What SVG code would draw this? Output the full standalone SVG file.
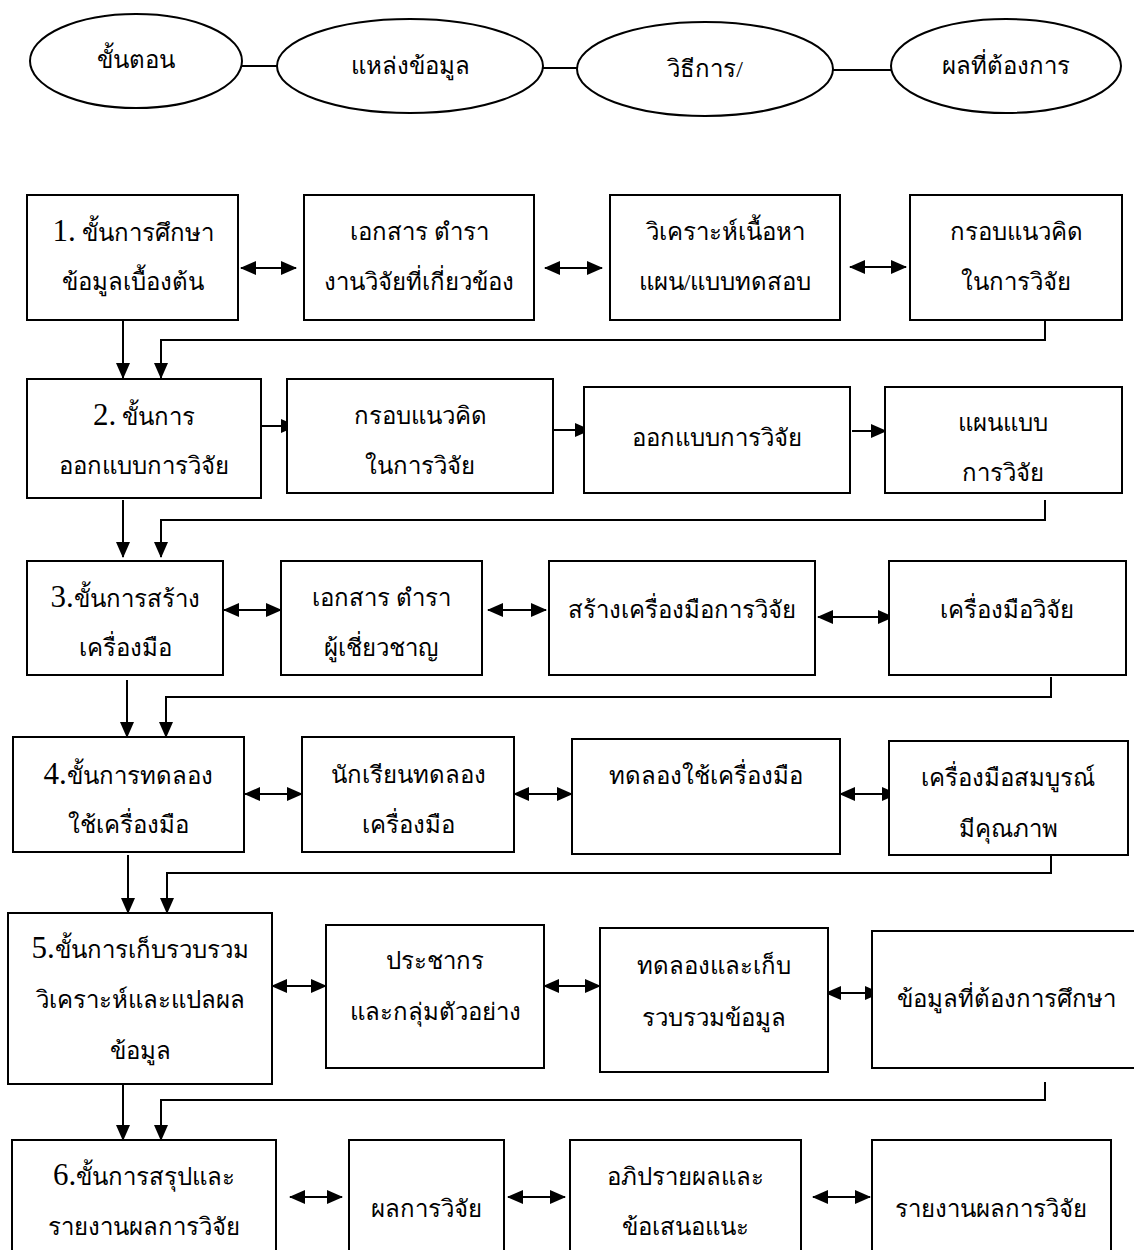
<svg xmlns="http://www.w3.org/2000/svg" width="1134" height="1250" viewBox="0 0 1134 1250">
<style>
.n{fill:#fff;stroke:#000;stroke-width:2}
.t{font-family:"Liberation Serif","DejaVu Serif",serif;font-size:24px;fill:#000;text-anchor:middle}
.d{font-size:31px}
.c{fill:none;stroke:#000;stroke-width:2}
</style>
<defs>
<marker id="ah" markerUnits="userSpaceOnUse" markerWidth="16" markerHeight="14" refX="15" refY="7" orient="auto-start-reverse" viewBox="0 0 16 14">
<path d="M0,0 L16,7 L0,14 z" fill="#000"/>
</marker>
</defs>
<rect width="1134" height="1250" fill="#fff"/>
<g id="connectors">
<line class="c" x1="242" y1="66" x2="277" y2="66"/>
<line class="c" x1="543" y1="68" x2="577" y2="68"/>
<line class="c" x1="833" y1="70" x2="891" y2="70"/>
<line class="c" x1="241" y1="268" x2="296" y2="268" marker-start="url(#ah)" marker-end="url(#ah)"/>
<line class="c" x1="545" y1="268" x2="602" y2="268" marker-start="url(#ah)" marker-end="url(#ah)"/>
<line class="c" x1="850" y1="267" x2="906" y2="267" marker-start="url(#ah)" marker-end="url(#ah)"/>
<line class="c" x1="123" y1="320" x2="123" y2="378" marker-end="url(#ah)"/>
<polyline class="c" points="1045,320 1045,340 161,340 161,378" marker-end="url(#ah)"/>
<line class="c" x1="262" y1="426" x2="296" y2="426" marker-end="url(#ah)"/>
<line class="c" x1="554" y1="430" x2="590" y2="430" marker-end="url(#ah)"/>
<line class="c" x1="852" y1="431" x2="886" y2="431" marker-end="url(#ah)"/>
<line class="c" x1="123" y1="500" x2="123" y2="557" marker-end="url(#ah)"/>
<polyline class="c" points="1045,500 1045,520 161,520 161,557" marker-end="url(#ah)"/>
<line class="c" x1="224" y1="610" x2="281" y2="610" marker-start="url(#ah)" marker-end="url(#ah)"/>
<line class="c" x1="488" y1="610" x2="546" y2="610" marker-start="url(#ah)" marker-end="url(#ah)"/>
<line class="c" x1="818" y1="617" x2="893" y2="617" marker-start="url(#ah)" marker-end="url(#ah)"/>
<line class="c" x1="127" y1="680" x2="127" y2="737" marker-end="url(#ah)"/>
<polyline class="c" points="1051,677 1051,697 166,697 166,737" marker-end="url(#ah)"/>
<line class="c" x1="245" y1="794" x2="302" y2="794" marker-start="url(#ah)" marker-end="url(#ah)"/>
<line class="c" x1="514" y1="794" x2="572" y2="794" marker-start="url(#ah)" marker-end="url(#ah)"/>
<line class="c" x1="840" y1="794" x2="897" y2="794" marker-start="url(#ah)" marker-end="url(#ah)"/>
<line class="c" x1="128" y1="855" x2="128" y2="913" marker-end="url(#ah)"/>
<polyline class="c" points="1051,855 1051,873 167,873 167,913" marker-end="url(#ah)"/>
<line class="c" x1="272" y1="986" x2="326" y2="986" marker-start="url(#ah)" marker-end="url(#ah)"/>
<line class="c" x1="544" y1="986" x2="600" y2="986" marker-start="url(#ah)" marker-end="url(#ah)"/>
<line class="c" x1="826" y1="993" x2="880" y2="993" marker-start="url(#ah)" marker-end="url(#ah)"/>
<line class="c" x1="123" y1="1084" x2="123" y2="1140" marker-end="url(#ah)"/>
<polyline class="c" points="1045,1082 1045,1100 161,1100 161,1140" marker-end="url(#ah)"/>
<line class="c" x1="290" y1="1197" x2="342" y2="1197" marker-start="url(#ah)" marker-end="url(#ah)"/>
<line class="c" x1="508" y1="1197" x2="565" y2="1197" marker-start="url(#ah)" marker-end="url(#ah)"/>
<line class="c" x1="813" y1="1197" x2="870" y2="1197" marker-start="url(#ah)" marker-end="url(#ah)"/>
</g>
<g id="h1"><ellipse class="n" cx="136" cy="61" rx="106" ry="47"/><text class="t" x="136" y="68">ขั้นตอน</text></g>
<g id="h2"><ellipse class="n" cx="410" cy="66" rx="133" ry="47"/><text class="t" x="410" y="74">แหล่งข้อมูล</text></g>
<g id="h3"><ellipse class="n" cx="705" cy="69" rx="128" ry="47"/><text class="t" x="705" y="77">วิธีการ/</text></g>
<g id="h4"><ellipse class="n" cx="1006" cy="66" rx="115" ry="47"/><text class="t" x="1006" y="74">ผลที่ต้องการ</text></g>

<g id="s1"><rect class="n" x="27" y="195" width="211" height="125"/><text class="t" x="133" y="241"><tspan class="d">1.</tspan> ขั้นการศึกษา</text><text class="t" x="133" y="290">ข้อมูลเบื้องต้น</text></g>
<g id="b12"><rect class="n" x="304" y="195" width="230" height="125"/><text class="t" x="419" y="240">เอกสาร ตำรา</text><text class="t" x="419" y="290">งานวิจัยที่เกี่ยวข้อง</text></g>
<g id="b13"><rect class="n" x="610" y="195" width="230" height="125"/><text class="t" x="725" y="240">วิเคราะห์เนื้อหา</text><text class="t" x="725" y="290">แผน/แบบทดสอบ</text></g>
<g id="b14"><rect class="n" x="910" y="195" width="212" height="125"/><text class="t" x="1016" y="240">กรอบแนวคิด</text><text class="t" x="1016" y="290">ในการวิจัย</text></g>

<g id="s2"><rect class="n" x="27" y="379" width="234" height="119"/><text class="t" x="144" y="425"><tspan class="d">2.</tspan> ขั้นการ</text><text class="t" x="144" y="474">ออกแบบการวิจัย</text></g>
<g id="b22"><rect class="n" x="287" y="379" width="266" height="114"/><text class="t" x="420" y="424">กรอบแนวคิด</text><text class="t" x="420" y="474">ในการวิจัย</text></g>
<g id="b23"><rect class="n" x="584" y="387" width="266" height="106"/><text class="t" x="717" y="446">ออกแบบการวิจัย</text></g>
<g id="b24"><rect class="n" x="885" y="387" width="237" height="106"/><text class="t" x="1003" y="431">แผนแบบ</text><text class="t" x="1003" y="481">การวิจัย</text></g>

<g id="s3"><rect class="n" x="27" y="561" width="196" height="114"/><text class="t" x="125" y="607"><tspan class="d">3.</tspan>ขั้นการสร้าง</text><text class="t" x="125" y="656">เครื่องมือ</text></g>
<g id="b32"><rect class="n" x="281" y="561" width="201" height="114"/><text class="t" x="381" y="606">เอกสาร ตำรา</text><text class="t" x="381" y="656">ผู้เชี่ยวชาญ</text></g>
<g id="b33"><rect class="n" x="549" y="561" width="266" height="114"/><text class="t" x="682" y="618">สร้างเครื่องมือการวิจัย</text></g>
<g id="b34"><rect class="n" x="889" y="561" width="237" height="114"/><text class="t" x="1007" y="618">เครื่องมือวิจัย</text></g>

<g id="s4"><rect class="n" x="13" y="737" width="231" height="115"/><text class="t" x="128" y="784"><tspan class="d">4.</tspan>ขั้นการทดลอง</text><text class="t" x="128" y="833">ใช้เครื่องมือ</text></g>
<g id="b42"><rect class="n" x="302" y="737" width="212" height="115"/><text class="t" x="408" y="783">นักเรียนทดลอง</text><text class="t" x="408" y="833">เครื่องมือ</text></g>
<g id="b43"><rect class="n" x="572" y="739" width="268" height="115"/><text class="t" x="706" y="784">ทดลองใช้เครื่องมือ</text></g>
<g id="b44"><rect class="n" x="889" y="741" width="239" height="114"/><text class="t" x="1008" y="786">เครื่องมือสมบูรณ์</text><text class="t" x="1008" y="837">มีคุณภาพ</text></g>

<g id="s5"><rect class="n" x="8" y="913" width="264" height="171"/><text class="t" x="140" y="958"><tspan class="d">5.</tspan>ขั้นการเก็บรวบรวม</text><text class="t" x="140" y="1008">วิเคราะห์และแปลผล</text><text class="t" x="140" y="1059">ข้อมูล</text></g>
<g id="b52"><rect class="n" x="326" y="925" width="218" height="143"/><text class="t" x="435" y="969">ประชากร</text><text class="t" x="435" y="1020">และกลุ่มตัวอย่าง</text></g>
<g id="b53"><rect class="n" x="600" y="928" width="228" height="144"/><text class="t" x="714" y="974">ทดลองและเก็บ</text><text class="t" x="714" y="1026">รวบรวมข้อมูล</text></g>
<g id="b54"><rect class="n" x="872" y="931" width="264" height="137"/><text class="t" x="1006" y="1007">ข้อมูลที่ต้องการศึกษา</text></g>

<g id="s6"><rect class="n" x="12" y="1140" width="264" height="120"/><text class="t" x="144" y="1185"><tspan class="d">6.</tspan>ขั้นการสรุปและ</text><text class="t" x="144" y="1235">รายงานผลการวิจัย</text></g>
<g id="b62"><rect class="n" x="349" y="1140" width="155" height="120"/><text class="t" x="426" y="1217">ผลการวิจัย</text></g>
<g id="b63"><rect class="n" x="570" y="1140" width="231" height="120"/><text class="t" x="685" y="1185">อภิปรายผลและ</text><text class="t" x="685" y="1235">ข้อเสนอแนะ</text></g>
<g id="b64"><rect class="n" x="872" y="1140" width="239" height="120"/><text class="t" x="991" y="1217">รายงานผลการวิจัย</text></g>
</svg>
